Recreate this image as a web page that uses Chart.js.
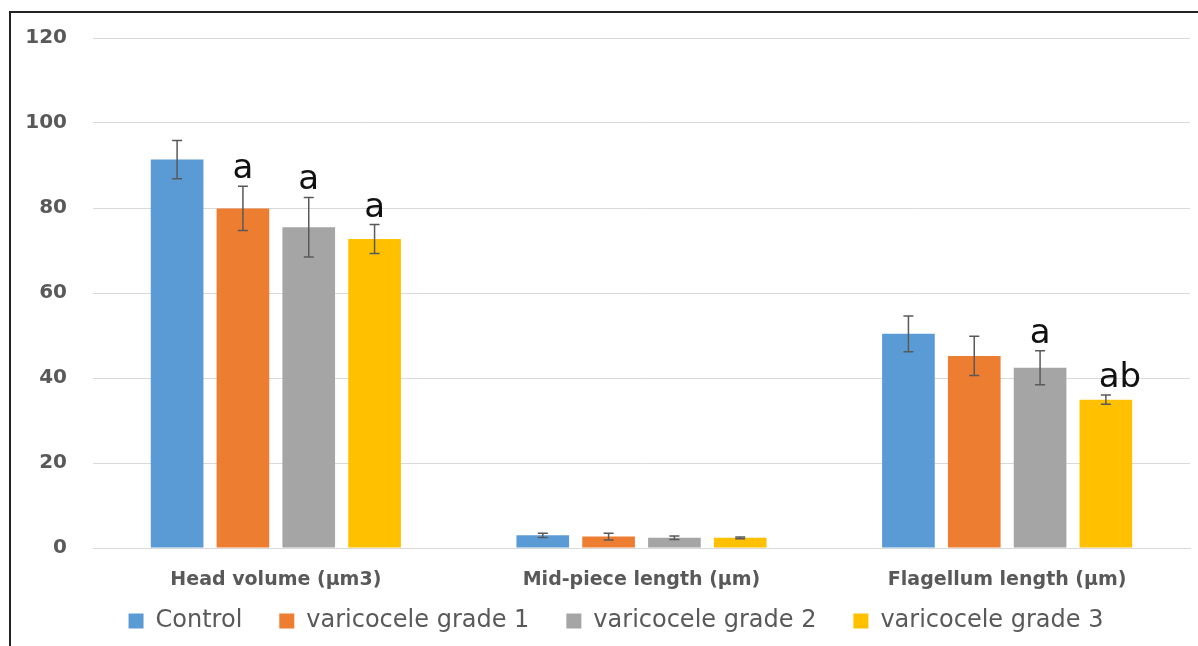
<!DOCTYPE html>
<html>
<head>
<meta charset="utf-8">
<script src="https://cdn.jsdelivr.net/npm/chart.js@4"></script>
<style>
  html, body { margin: 0; padding: 0; background: #fff; }
  #wrap { position: relative; width: 1198px; height: 646px; overflow: hidden; }
  #frame { position: absolute; left: 9px; top: 11px; right: -4px; bottom: -4px;
           border-top: 2px solid #222; border-left: 2px solid #222; pointer-events: none; }
</style>
</head>
<body>
<div id="wrap">
  <canvas id="chart" width="1198" height="646"></canvas>
  <div id="frame"></div>
</div>
<script>
// valores
const categories = ['Head volume (µm3)', 'Mid-piece length (µm)', 'Flagellum length (µm)'];
const seriesNames = ['Control', 'varicocele grade 1', 'varicocele grade 2', 'varicocele grade 3'];
const control = [91.4, 3.0, 50.4];
const controlErr = [4.5, 0.5, 4.2];
const grade1 = [79.9, 2.7, 45.2];
const grade1Err = [5.2, 0.8, 4.6];
const grade2 = [75.5, 2.4, 42.4];
const grade2Err = [7.0, 0.4, 4.0];
const grade3 = [72.7, 2.4, 34.9];
const grade3Err = [3.4, 0.2, 1.1];
const controlMarks = ['', '', ''];
const grade1Marks = ['a', '', ''];
const grade2Marks = ['a', '', 'a'];
const grade3Marks = ['a', '', 'ab'];
const yTicks = [0, 20, 40, 60, 80, 100, 120];

const colors = ['#5B9BD5', '#ED7D31', '#A5A5A5', '#FFC000'];
const values = [control, grade1, grade2, grade3];
const errors = [controlErr, grade1Err, grade2Err, grade3Err];
const marks = [controlMarks, grade1Marks, grade2Marks, grade3Marks];

// barras de error + letras de significancia
const errorBars = {
  id: 'errorBars',
  afterDatasetsDraw(chart) {
    const { ctx, scales: { y } } = chart;
    ctx.save();
    chart.data.datasets.forEach((ds, i) => {
      const meta = chart.getDatasetMeta(i);
      meta.data.forEach((bar, j) => {
        const v = ds.data[j];
        const e = errors[i][j];
        const top = y.getPixelForValue(v + e);
        const bottom = y.getPixelForValue(v - e);
        ctx.strokeStyle = '#595959';
        ctx.lineWidth = 1.5;
        ctx.beginPath();
        ctx.moveTo(bar.x, top);
        ctx.lineTo(bar.x, bottom);
        ctx.moveTo(bar.x - 5, top);
        ctx.lineTo(bar.x + 5, top);
        ctx.moveTo(bar.x - 5, bottom);
        ctx.lineTo(bar.x + 5, bottom);
        ctx.stroke();
        const m = marks[i][j];
        if (m) {
          ctx.fillStyle = '#111';
          ctx.font = '34px "DejaVu Sans"';
          ctx.textAlign = 'center';
          ctx.textBaseline = 'alphabetic';
          ctx.fillText(m, bar.x + (m.length > 1 ? 14 : 0), top - 8);
        }
      });
    });
    ctx.restore();
  }
};

// sin recorte de etiquetas cuando se fija el tamaño del eje
const noClip = scale => { scale._computeLabelArea = () => undefined; };

new Chart(document.getElementById('chart'), {
  type: 'bar',
  data: {
    labels: categories,
    datasets: values.map((d, i) => ({
      label: seriesNames[i],
      data: d,
      backgroundColor: colors[i],
      categoryPercentage: 0.72,
      barPercentage: 0.8
    }))
  },
  options: {
    responsive: false,
    animation: false,
    layout: { padding: { left: 42, right: 8, top: 34, bottom: 3 } },
    plugins: {
      tooltip: { enabled: false },
      legend: {
        position: 'bottom',
        labels: {
          boxWidth: 15,
          boxHeight: 15,
          padding: 37,
          color: '#595959',
          font: { family: 'DejaVu Sans', size: 24 }
        }
      }
    },
    scales: {
      x: {
        afterFit(scale) { scale.height = 24; noClip(scale); },
        grid: { display: false },
        border: { color: '#d9d9d9' },
        ticks: {
          padding: 13,
          color: '#595959',
          font: { family: 'DejaVu Sans', size: 19, weight: 'bold' }
        }
      },
      y: {
        min: 0,
        max: 120,
        afterFit(scale) { scale.width = 51; noClip(scale); },
        afterBuildTicks(scale) { scale.ticks = yTicks.map(v => ({ value: v })); },
        grid: { color: '#d9d9d9', drawTicks: false },
        border: { display: false },
        ticks: {
          padding: 26,
          color: '#595959',
          font: { family: 'DejaVu Sans', size: 20, weight: 'bold' }
        }
      }
    }
  },
  plugins: [errorBars]
});
</script>
</body>
</html>
